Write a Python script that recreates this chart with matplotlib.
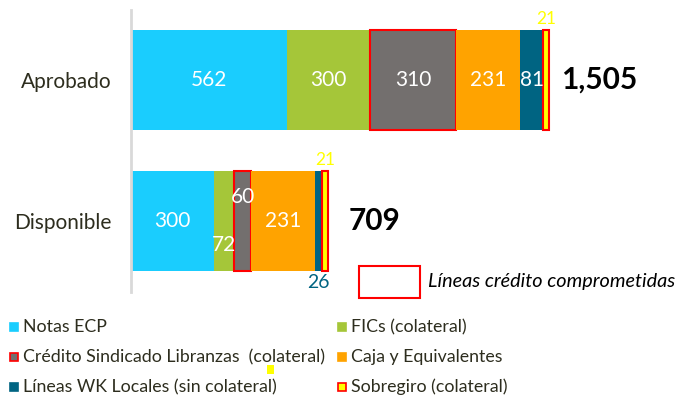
import matplotlib.pyplot as plt
from matplotlib.patches import Rectangle

plt.rcParams['font.family'] = ['Lato', 'DejaVu Sans']

categorias = ['Disponible', 'Aprobado']
series = ['Notas ECP', 'FICs (colateral)', 'Crédito Sindicado Libranzas  (colateral)',
          'Caja y Equivalentes', 'Líneas WK Locales (sin colateral)', 'Sobregiro (colateral)']
aprobado = [562, 300, 310, 231, 81, 21]
disponible = [300, 72, 60, 231, 26, 21]
totales = ['709', '1,505']

colores = ['#1ACDFE', '#A5C639', '#736F6E', '#FFA300', '#006482', '#FFFF00']
bordes = [None, None, '#FF0000', None, None, '#FF0000']
txt = '#2d2d1e'

fig = plt.figure(figsize=(6.82, 4.0), dpi=100)
ax = fig.add_axes([131/682, 1-292/400, 1-131/682, 282/400])

datos = [disponible, aprobado]
ypos = [0, 1]
h = 0.709
for i, vals in enumerate(datos):
    left = 0
    for j, v in enumerate(vals):
        if bordes[j]:
            ax.barh(ypos[i], v, left=left, height=h, color=colores[j],
                    edgecolor=bordes[j], linewidth=1.5)
        else:
            ax.barh(ypos[i], v, left=left, height=h, color=colores[j], linewidth=0)
        # etiquetas
        cx = left + v / 2
        if j == 5:
            ax.text(cx, ypos[i] + h/2 + 0.02, str(v), color='#FFFF00', fontsize=12.5,
                    ha='center', va='bottom')
        elif i == 0 and j == 4:
            ax.text(cx, ypos[i] - h/2 - 0.02, str(v), color='#006482', fontsize=14,
                    ha='center', va='top')
        elif i == 0 and j == 1:
            ax.text(cx, ypos[i] - 0.17, str(v), color='white', fontsize=15,
                    ha='center', va='center')
        elif i == 0 and j == 2:
            ax.text(cx, ypos[i] + 0.17, str(v), color='white', fontsize=15,
                    ha='center', va='center')
        else:
            ax.text(cx, ypos[i], str(v), color='white', fontsize=15,
                    ha='center', va='center')
        left += v
    off = 15 if i == 0 else 9
    ax.annotate(totales[i], (left, ypos[i]), xytext=(off, 0), textcoords='offset points',
                fontsize=21.5, fontweight='bold', color='black', ha='left', va='center')

ax.set_xlim(0, 1985)
ax.set_ylim(-0.504, 1.496)
ax.set_yticks(ypos)
ax.set_yticklabels(categorias, fontsize=15, color=txt)
ax.tick_params(axis='y', length=0, pad=14)
ax.set_xticks([])
for s in ['top', 'right', 'bottom']:
    ax.spines[s].set_visible(False)
ax.spines['left'].set_color('#D9D9D9')
ax.spines['left'].set_linewidth(2)

# caja lineas comprometidas
fig.patches.append(Rectangle((359/682, 1-298/400), 61/682, 32/400, transform=fig.transFigure,
                             facecolor='white', edgecolor='#FF0000', linewidth=1.5))
fig.text(428/682, 1-282/400, 'Líneas crédito comprometidas', fontsize=14.3, style='italic',
         color='black', va='center', ha='left')

# leyenda
filas = [327, 357, 387]
cols = [10, 338]
for k, nombre in enumerate(series):
    x0 = cols[k % 2]
    y0 = filas[k // 2]
    ec = bordes[k] if bordes[k] else colores[k]
    fig.patches.append(Rectangle((x0/682, 1-(y0+4)/400), 8/682, 8/400, transform=fig.transFigure,
                                 facecolor=colores[k], edgecolor=ec, linewidth=1.2))
    fig.text((x0+13)/682, 1-y0/400, nombre, fontsize=12.8, color=txt, va='center', ha='left')

fig.patches.append(Rectangle((267/682, 1-374/400), 7/682, 9/400, transform=fig.transFigure,
                             facecolor='#FFFF00', edgecolor='none'))

fig.savefig('out.png', dpi=100)
